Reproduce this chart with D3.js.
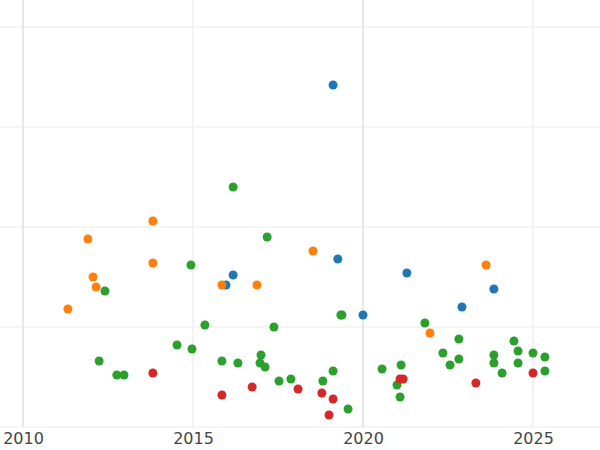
<!DOCTYPE html>
<html><head><meta charset="utf-8">
<script src="https://cdn.jsdelivr.net/npm/d3@7"></script>
<style>body{margin:0;background:#fff}</style>
</head><body><div id="chart"></div>
<script>
var years = {
  blue:   [2019.12,2016.18,2015.97,2019.26,2021.29,2020.0,2022.91,2023.85],
  orange: [2013.82,2011.91,2012.06,2012.15,2011.32,2013.82,2015.85,2016.88,2018.53,2021.97,2023.62],
  green:  [2016.18,2017.18,2014.94,2012.41,2015.35,2017.38,2019.38,2019.35,2014.53,2014.97,2012.24,2012.76,2012.97,2015.85,2016.32,2017.0,2016.97,2017.12,2017.53,2017.88,2018.82,2019.12,2019.56,2020.56,2021.0,2021.12,2021.09,2021.82,2022.35,2022.56,2022.82,2022.82,2023.85,2023.85,2024.09,2024.44,2024.56,2024.56,2025.0,2025.35,2025.35],
  red:    [2013.82,2015.85,2016.74,2018.09,2018.79,2019.12,2019.0,2021.09,2021.18,2023.32,2025.0]
};
var values = {
  blue:   [3.42,1.52,1.42,1.68,1.54,1.12,1.20,1.38],
  orange: [2.06,1.88,1.50,1.40,1.18,1.64,1.42,1.42,1.76,0.94,1.62],
  green:  [2.40,1.90,1.62,1.36,1.02,1.00,1.12,1.12,0.82,0.78,0.66,0.52,0.52,0.66,0.64,0.72,0.64,0.60,0.46,0.48,0.46,0.56,0.18,0.58,0.42,0.62,0.30,1.04,0.74,0.62,0.88,0.68,0.72,0.64,0.54,0.86,0.76,0.64,0.74,0.70,0.56],
  red:    [0.54,0.32,0.40,0.38,0.34,0.28,0.12,0.48,0.48,0.44,0.54]
};
var colors = {blue:"#1f77b4", orange:"#ff7f0e", green:"#2ca02c", red:"#d62728"};
var xTicks = [2010, 2015, 2020, 2025];
var yTicks = [0, 1, 2, 3, 4];

var width = 600, height = 450;
var x = d3.scaleLinear().domain([2010, 2020]).range([23, 363]);
var y = d3.scaleLinear().domain([0, 4]).range([427, 27]);

var svg = d3.select("#chart").append("svg").attr("width", width).attr("height", height);

svg.selectAll("line.h").data(yTicks).enter().append("line")
  .attr("x1", 0).attr("x2", width)
  .attr("y1", d => y(d)).attr("y2", d => y(d))
  .attr("stroke", "#ebebeb").attr("stroke-width", 1);
svg.selectAll("line.v").data(xTicks).enter().append("line")
  .attr("x1", d => x(d)).attr("x2", d => x(d))
  .attr("y1", 0).attr("y2", 427)
  .attr("stroke", d => d % 10 === 0 ? "#e6e6e6" : "#f3f3f3").attr("stroke-width", 2);

var points = [];
Object.keys(years).forEach(function(k){
  years[k].forEach(function(yr, i){ points.push({k: k, x: yr, y: values[k][i]}); });
});
svg.selectAll("circle").data(points).enter().append("circle")
  .attr("cx", d => x(d.x)).attr("cy", d => y(d.y))
  .attr("r", 4.5).attr("fill", d => colors[d.k]);

var axis = d3.axisBottom(x).tickValues(xTicks).tickFormat(d3.format("d")).tickSize(0);
var ga = svg.append("g").attr("transform", "translate(0,430)").call(axis);
ga.select(".domain").remove();
ga.selectAll("text").attr("font-family", "DejaVu Sans, sans-serif").attr("font-size", 16).attr("fill", "#444");
</script></body></html>
